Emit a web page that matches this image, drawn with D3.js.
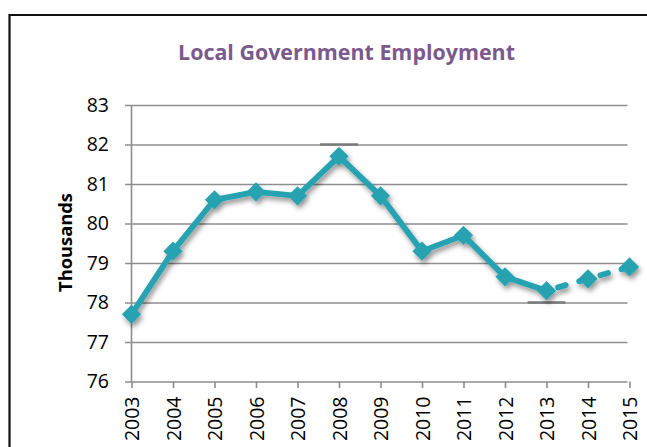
<!DOCTYPE html>
<html>
<head>
<meta charset="utf-8">
<script src="https://cdn.jsdelivr.net/npm/d3@7/dist/d3.min.js"></script>
<style>
  html, body { margin: 0; padding: 0; background: #fff; }
  svg { display: block; }
</style>
</head>
<body>
<svg id="chart" width="647" height="447"></svg>
<script>
// Local government employment, thousands of jobs
const years = [2003, 2004, 2005, 2006, 2007, 2008, 2009, 2010, 2011, 2012, 2013, 2014, 2015];
const employment = [77.7, 79.3, 80.6, 80.8, 80.7, 81.7, 80.7, 79.3, 79.7, 78.65, 78.3, 78.6, 78.9];
// years from which the series is drawn dashed (projection)
const projectedFrom = 2013;
const yTicks = [76, 77, 78, 79, 80, 81, 82, 83];
// highlighted gridline pieces at the peak and the trough
const peakTroughBars = [
  { year: 2008, level: 82 },
  { year: 2013, level: 78 }
];
const titleText = "Local Government Employment";
const yAxisTitle = "Thousands";

const svg = d3.select("#chart");
const W = 647, H = 447;
const margin = { left: 131.5, right: 17.5, top: 105, bottom: 65.5 };

const x = d3.scalePoint()
  .domain(years)
  .range([margin.left, W - margin.right]);
const y = d3.scaleLinear()
  .domain([d3.min(yTicks), d3.max(yTicks)])
  .range([H - margin.bottom, margin.top]);

const gridColor = "#8e8e8e";
const lineColor = "#27a2b1";
const fontFam = "'Open Sans', 'Liberation Sans', sans-serif";

// shadow under the series
const defs = svg.append("defs");
const f = defs.append("filter").attr("id", "shadow")
  .attr("x", "-20%").attr("y", "-20%").attr("width", "140%").attr("height", "150%");
f.append("feDropShadow")
  .attr("dx", 2).attr("dy", 3.5).attr("stdDeviation", 2.4)
  .attr("flood-color", "#000").attr("flood-opacity", 0.42);

// outer frame
svg.append("path")
  .attr("d", `M9.5,${H} V15 H${W}`)
  .attr("fill", "none").attr("stroke", "#111").attr("stroke-width", 2.2);

// title
function fitText(sel, target) {
  const len = sel.node().getComputedTextLength();
  const fs = parseFloat(sel.attr("font-size"));
  sel.attr("font-size", fs * target / len);
}
const title = svg.append("text")
  .attr("x", 346.5).attr("y", 60)
  .attr("text-anchor", "middle")
  .attr("font-family", fontFam).attr("font-weight", 700)
  .attr("font-size", 20).attr("fill", "#7b5a8b")
  .text(titleText);
fitText(title, 337);

// horizontal gridlines and y axis
const yAxis = d3.axisLeft(y)
  .tickValues(yTicks)
  .tickSize(-(W - margin.right - margin.left) )
  .tickSizeOuter(0)
  .tickPadding(16)
  .tickFormat(d3.format("d"));
const gy = svg.append("g")
  .attr("transform", `translate(${margin.left},0)`)
  .call(yAxis);
gy.select(".domain").remove();
gy.selectAll(".tick line")
  .attr("stroke", gridColor).attr("stroke-width", 1.6)
  .attr("x1", -6.5).attr("x2", W - margin.right - margin.left - 2);
gy.selectAll(".tick text")
  .attr("font-family", fontFam).attr("font-size", 19.5)
  .attr("fill", "#000").attr("dx", 0).attr("x", -22.5);

// vertical axis line
svg.append("line")
  .attr("x1", margin.left).attr("x2", margin.left)
  .attr("y1", y(d3.max(yTicks))).attr("y2", y(d3.min(yTicks)))
  .attr("stroke", gridColor).attr("stroke-width", 1.6);

// x axis ticks and labels
const xAxis = d3.axisBottom(x).tickSize(6.5).tickSizeOuter(0).tickPadding(0);
const gx = svg.append("g")
  .attr("transform", `translate(0,${y(d3.min(yTicks))})`)
  .call(xAxis);
gx.select(".domain").remove();
gx.selectAll(".tick line").attr("stroke", gridColor).attr("stroke-width", 1.6);
gx.selectAll(".tick text")
  .attr("font-family", fontFam).attr("font-size", 19.5).attr("fill", "#000")
  .attr("transform", "rotate(-90)")
  .attr("text-anchor", "end")
  .attr("x", -15).attr("y", 0).attr("dy", "0.36em");

// peak / trough bars on the gridlines
svg.append("g").selectAll("line")
  .data(peakTroughBars)
  .join("line")
  .attr("x1", d => x(d.year) - 19).attr("x2", d => x(d.year) + 19)
  .attr("y1", d => y(d.level)).attr("y2", d => y(d.level))
  .attr("stroke", "#7a7a7a").attr("stroke-width", 2.6);

// axis title
svg.append("text")
  .attr("transform", `translate(65,242.5) rotate(-90)`)
  .attr("text-anchor", "middle").attr("dy", "0.36em")
  .attr("font-family", fontFam).attr("font-weight", 700)
  .attr("font-size", 17).attr("fill", "#000")
  .text(yAxisTitle)
  .call(s => fitText(s, 99));

// series
const pts = years.map((yr, i) => ({ year: yr, value: employment[i] }));
const actual = pts.filter(d => d.year <= projectedFrom);
const projected = pts.filter(d => d.year >= projectedFrom);
const line = d3.line().x(d => x(d.year)).y(d => y(d.value));

const series = svg.append("g").attr("filter", "url(#shadow)");
series.append("path")
  .attr("d", line(actual))
  .attr("fill", "none").attr("stroke", lineColor)
  .attr("stroke-width", 5.8).attr("stroke-linejoin", "round");
series.append("path")
  .attr("d", line(projected))
  .attr("fill", "none").attr("stroke", lineColor)
  .attr("stroke-width", 5.8).attr("stroke-linecap", "round")
  .attr("stroke-dasharray", "8,14").attr("stroke-dashoffset", -12);

const diamond = d3.symbol().type(d3.symbolDiamond2).size(235);
series.selectAll("path.marker")
  .data(pts)
  .join("path")
  .attr("class", "marker")
  .attr("d", diamond)
  .attr("transform", d => `translate(${x(d.year)},${y(d.value)})`)
  .attr("fill", lineColor);
</script>
</body>
</html>
